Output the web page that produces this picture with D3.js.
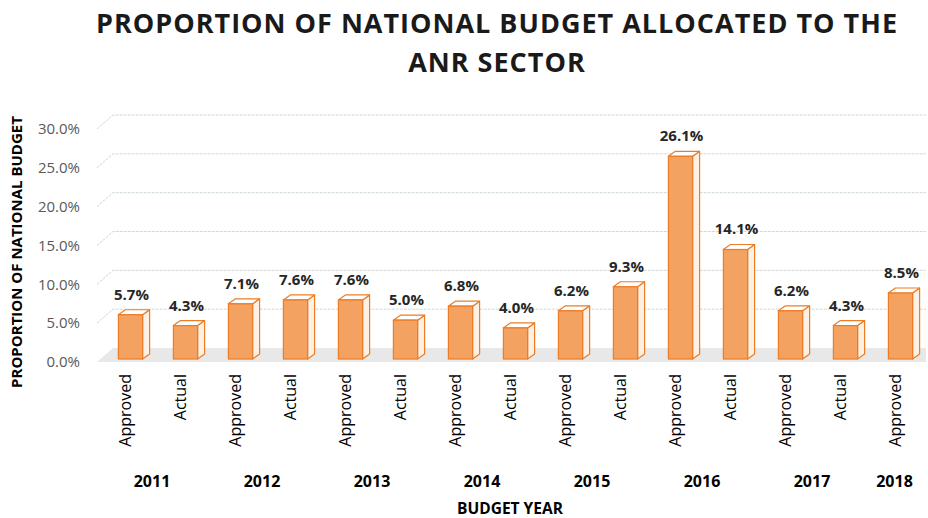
<!DOCTYPE html>
<html>
<head>
<meta charset="utf-8">
<script src="https://cdn.jsdelivr.net/npm/d3@7"></script>
<style>
  body { margin: 0; background: #fff; }
  svg { font-family: "Open Sans", sans-serif; }
</style>
</head>
<body>
<svg id="chart" width="928" height="518"></svg>
<script>
// data
var years = ['2011', '2012', '2013', '2014', '2015', '2016', '2017', '2018'];
var approved = [5.7, 7.1, 7.6, 6.8, 6.2, 26.1, 6.2, 8.5];
var actual = [4.3, 7.6, 5.0, 4.0, 9.3, 14.1, 4.3, null];
var yTicks = [0, 5, 10, 15, 20, 25, 30];

// flatten into one bar per category slot
var bars = [];
years.forEach(function(y, i) {
  bars.push({year: y, type: 'Approved', value: approved[i]});
  if (actual[i] != null) bars.push({year: y, type: 'Actual', value: actual[i]});
});
bars.forEach(function(d, i) { d.key = i; });

var svg = d3.select('#chart');
var depthX = 7, depthY = -5;     // bar depth
var wallX = 16, wallY = -14;     // back wall offset for gridlines/floor

var x = d3.scaleBand()
    .domain(bars.map(function(d) { return d.key; }))
    .range([103, 928])
    .paddingInner(0.56)
    .paddingOuter(0.28);

// axis/grid scale, and the bar scale (bars stand a bit back on the floor)
var y = d3.scaleLinear().domain([0, 30]).range([362, 129]);
var yBar = d3.scaleLinear().domain([0, 30]).range([359, 126]);

// title
var title = ['PROPORTION OF NATIONAL BUDGET ALLOCATED TO THE', 'ANR SECTOR'];
svg.selectAll('text.title').data(title).enter().append('text')
    .attr('class', 'title')
    .attr('x', 497)
    .attr('y', function(d, i) { return 33 + i * 39; })
    .attr('text-anchor', 'middle')
    .attr('font-size', 27).attr('font-weight', 'bold')
    .attr('letter-spacing', 1.0)
    .attr('fill', '#1a1a1a')
    .text(function(d) { return d; });

// floor
var x0 = 97, x1 = 926;
svg.append('path')
    .attr('d', 'M' + x0 + ',' + y(0) + 'L' + (x0 + wallX) + ',' + (y(0) + wallY) +
               'L' + x1 + ',' + (y(0) + wallY) + 'L' + x1 + ',' + y(0) + 'Z')
    .attr('fill', '#e8e8e8');

// gridlines (slanted side wall + back wall)
svg.append('g').selectAll('path')
  .data(yTicks.filter(function(t) { return t > 0; }))
  .enter().append('path')
    .attr('d', function(t) {
      return 'M' + x0 + ',' + y(t) + 'L' + (x0 + wallX) + ',' + (y(t) + wallY) + 'L' + x1 + ',' + (y(t) + wallY);
    })
    .attr('fill', 'none')
    .attr('stroke', '#d0d8d8')
    .attr('stroke-width', 1)
    .attr('stroke-dasharray', '3,1');

// y axis labels
var yAxis = d3.axisLeft(y)
    .tickValues(yTicks)
    .tickSize(0)
    .tickPadding(0)
    .tickFormat(function(d) { return d.toFixed(1) + '%'; });
var gy = svg.append('g')
    .attr('transform', 'translate(80,0)')
    .call(yAxis);
gy.select('.domain').remove();
gy.selectAll('text')
    .attr('font-size', 15)
    .attr('fill', '#595959')
    .attr('font-family', '"Open Sans", sans-serif');

// bars
var bw = x.bandwidth();
var barG = svg.append('g').selectAll('g.bar').data(bars).enter().append('g').attr('class', 'bar');

// side face
barG.append('path')
    .attr('d', function(d) {
      var l = x(d.key) + bw, t = yBar(d.value), b = yBar(0);
      return 'M' + l + ',' + t + 'L' + (l + depthX) + ',' + (t + depthY) +
             'L' + (l + depthX) + ',' + (b + depthY) + 'L' + l + ',' + b + 'Z';
    })
    .attr('fill', '#fdf0e4')
    .attr('stroke', '#ec7c26')
    .attr('stroke-width', 1.2)
    .attr('stroke-linejoin', 'round');

// top face
barG.append('path')
    .attr('d', function(d) {
      var l = x(d.key), t = yBar(d.value);
      return 'M' + l + ',' + t + 'L' + (l + depthX) + ',' + (t + depthY) +
             'L' + (l + bw + depthX) + ',' + (t + depthY) + 'L' + (l + bw) + ',' + t + 'Z';
    })
    .attr('fill', '#fff')
    .attr('stroke', '#ec7c26')
    .attr('stroke-width', 1.2)
    .attr('stroke-linejoin', 'round');

// front face
barG.append('rect')
    .attr('x', function(d) { return x(d.key); })
    .attr('y', function(d) { return yBar(d.value); })
    .attr('width', bw)
    .attr('height', function(d) { return yBar(0) - yBar(d.value); })
    .attr('fill', '#f4a261')
    .attr('stroke', '#ec7c26')
    .attr('stroke-width', 1.2);

// value labels
barG.append('text')
    .attr('x', function(d) { return x(d.key) + bw / 2 + 1; })
    .attr('y', function(d) { return yBar(d.value) - 15; })
    .attr('text-anchor', 'middle')
    .attr('font-size', 15)
    .attr('font-weight', 'bold')
    .attr('fill', '#262626')
    .text(function(d) { return d.value.toFixed(1) + '%'; });

// category labels (rotated)
svg.append('g').selectAll('text')
  .data(bars).enter().append('text')
    .attr('transform', function(d) {
      return 'translate(' + (x(d.key) + bw / 2) + ',374) rotate(-90)';
    })
    .attr('text-anchor', 'end')
    .attr('font-size', 16)
    .attr('fill', '#000')
    .text(function(d) { return d.type; });

// year labels, centred under their group of slots
var step = x.step();
svg.append('g').selectAll('text')
  .data(years).enter().append('text')
    .attr('x', function(yr) {
      var ks = bars.filter(function(d) { return d.year === yr; });
      var a = x(ks[0].key) + bw / 2, b = x(ks[ks.length - 1].key) + bw / 2;
      return (a + b) / 2 - 6;
    })
    .attr('y', 487)
    .attr('text-anchor', 'middle')
    .attr('font-size', 16)
    .attr('font-weight', 'bold')
    .attr('fill', '#000')
    .text(function(yr) { return yr; });

// axis titles
svg.append('text')
    .attr('x', 510).attr('y', 514)
    .attr('text-anchor', 'middle')
    .attr('font-size', 15.5)
    .attr('font-weight', 'bold')
    .attr('fill', '#000')
    .text('BUDGET YEAR');

svg.append('text')
    .attr('transform', 'translate(22,252) rotate(-90)')
    .attr('text-anchor', 'middle')
    .attr('font-size', 15)
    .attr('font-weight', 'bold')
    .attr('fill', '#000')
    .text('PROPORTION OF NATIONAL BUDGET');
</script>
</body>
</html>
